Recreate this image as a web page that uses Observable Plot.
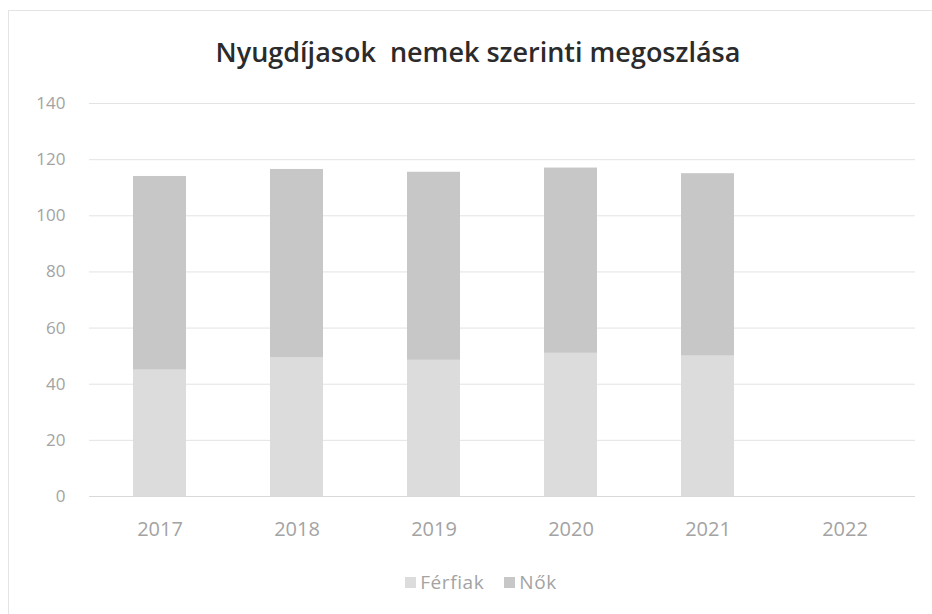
<!DOCTYPE html>
<html>
<head>
<meta charset="utf-8">
<script src="https://cdn.jsdelivr.net/npm/d3@7"></script>
<script src="https://cdn.jsdelivr.net/npm/@observablehq/plot@0.6"></script>
<style>
  html, body { margin: 0; padding: 0; background: #fff; }
  #frame { position: relative; width: 932px; height: 614px; overflow: hidden; font-family: "Open Sans", sans-serif; }
  #border { position: absolute; left: 8px; top: 10px; width: 940px; height: 620px; border: 1px solid #e4e4e4; }
  #title { position: absolute; left: 0; top: 38px; width: 932px; text-align: center; font-size: 27px; line-height: 1; font-weight: 600; color: #2b2b2b; white-space: pre; padding-left: 24px; box-sizing: border-box; }
  #chart { position: absolute; left: 0; top: 85px; }
  #legend { position: absolute; left: 0; top: 573px; width: 932px; text-align: center; font-size: 19px; line-height: 1; color: #a3a3a3; padding-left: 30px; box-sizing: border-box; letter-spacing: 0.6px; }
  .sw { display: inline-block; width: 11px; height: 11px; margin-right: 4px; vertical-align: 1px; }
  .item { display: inline-block; margin: 0 10px; }
</style>
</head>
<body>
<div id="frame">
  <div id="border"></div>
  <div id="title"></div>
  <div id="chart"></div>
  <div id="legend"></div>
</div>
<script>
const title = "Nyugdíjasok  nemek szerinti megoszlása";
const years = ["2017", "2018", "2019", "2020", "2021", "2022"];
const series = ["Férfiak", "Nők"];
const ferfiak = [45, 49.5, 48.5, 51, 50, null];
const nok = [69, 67, 67, 66, 65, null];
const yTicks = [0, 20, 40, 60, 80, 100, 120, 140];
const colors = ["#dcdcdc", "#c7c7c7"];

const rows = [];
years.forEach((y, i) => {
  if (ferfiak[i] != null) rows.push({year: y, sex: series[0], value: ferfiak[i]});
  if (nok[i] != null) rows.push({year: y, sex: series[1], value: nok[i]});
});

document.getElementById("title").textContent = title;

const chart = Plot.plot({
  width: 932,
  height: 470,
  marginLeft: 89,
  marginRight: 17,
  marginTop: 18,
  marginBottom: 59,
  style: { fontFamily: "Open Sans, sans-serif", fontSize: "17px", color: "#a3a3a3", background: "transparent" },
  x: { domain: years, paddingInner: 0.61, paddingOuter: 0.305, label: null, tickSize: 0, tickPadding: 25 },
  y: { domain: [0, 140], ticks: yTicks, label: null, tickSize: 0, tickPadding: 24 },
  color: { domain: series, range: colors },
  marks: [
    Plot.gridY(yTicks, { stroke: "#e3e3e3", strokeOpacity: 1 }),
    Plot.barY(rows, { x: "year", y: "value", fill: "sex", order: series }),
    Plot.ruleY([0], { stroke: "#d9d9d9" })
  ]
});
chart.querySelectorAll("g[aria-label='x-axis tick label'] text").forEach(t => t.style.fontSize = "20px");
document.getElementById("chart").appendChild(chart);

const legend = document.getElementById("legend");
series.forEach((s, i) => {
  const it = document.createElement("span");
  it.className = "item";
  const sw = document.createElement("span");
  sw.className = "sw";
  sw.style.background = colors[i];
  it.appendChild(sw);
  it.appendChild(document.createTextNode(s));
  legend.appendChild(it);
});
</script>
</body>
</html>
